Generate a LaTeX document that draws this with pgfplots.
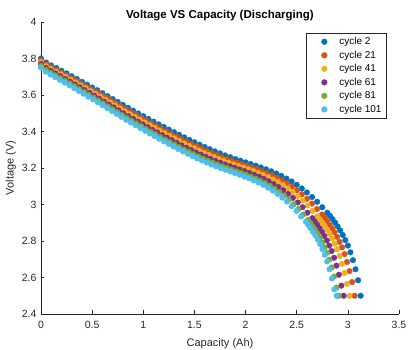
\documentclass[border=0pt]{standalone}
\usepackage{fontspec}
\setmainfont{Liberation Sans}
\usepackage{pgfplots}
\usepackage{pgfplotstable}
\pgfplotsset{compat=1.18}
\definecolor{c1}{rgb}{0,0.447,0.741}
\definecolor{c2}{rgb}{0.850,0.325,0.098}
\definecolor{c3}{rgb}{0.929,0.694,0.125}
\definecolor{c4}{rgb}{0.494,0.184,0.556}
\definecolor{c5}{rgb}{0.466,0.674,0.188}
\definecolor{c6}{rgb}{0.301,0.745,0.933}
\definecolor{axc}{rgb}{0.15,0.15,0.15}

\pgfplotstableread{
x V
0.00 3.800
0.05 3.778
0.10 3.762
0.15 3.748
0.20 3.733
0.25 3.718
0.30 3.703
0.35 3.688
0.40 3.672
0.45 3.657
0.50 3.641
0.55 3.626
0.60 3.610
0.65 3.594
0.70 3.578
0.75 3.562
0.80 3.546
0.85 3.530
0.90 3.514
0.95 3.499
1.00 3.484
1.05 3.469
1.10 3.454
1.15 3.439
1.20 3.425
1.25 3.410
1.30 3.396
1.35 3.382
1.40 3.368
1.45 3.354
1.50 3.341
1.55 3.328
1.60 3.315
1.65 3.303
1.70 3.291
1.75 3.280
1.80 3.269
1.85 3.259
1.90 3.249
1.95 3.240
2.00 3.231
2.05 3.222
2.10 3.213
2.15 3.203
2.20 3.193
2.25 3.182
2.30 3.170
2.35 3.157
2.40 3.142
2.45 3.126
2.50 3.108
2.55 3.088
2.60 3.066
2.65 3.041
2.70 3.015
2.75 2.985
2.80 2.955
2.825 2.938
2.85 2.920
2.875 2.900
2.90 2.880
2.925 2.858
2.95 2.833
2.975 2.805
3.00 2.775
3.025 2.738
3.05 2.695
3.075 2.645
3.10 2.585
3.125 2.500
}\cycA

\pgfplotstableread{
x V
0.000 3.790
0.049 3.768
0.098 3.752
0.147 3.738
0.196 3.723
0.245 3.708
0.294 3.693
0.343 3.678
0.392 3.662
0.441 3.647
0.491 3.631
0.540 3.616
0.589 3.600
0.638 3.584
0.687 3.568
0.736 3.552
0.785 3.536
0.834 3.520
0.883 3.504
0.932 3.489
0.981 3.474
1.030 3.459
1.079 3.444
1.128 3.429
1.177 3.415
1.226 3.400
1.275 3.386
1.324 3.372
1.373 3.358
1.422 3.344
1.472 3.331
1.521 3.318
1.570 3.305
1.619 3.293
1.668 3.281
1.717 3.270
1.766 3.259
1.815 3.249
1.864 3.239
1.913 3.230
1.962 3.221
2.011 3.212
2.060 3.203
2.109 3.193
2.158 3.183
2.207 3.172
2.256 3.160
2.305 3.147
2.354 3.132
2.403 3.116
2.453 3.098
2.502 3.078
2.551 3.056
2.600 3.031
2.649 3.005
2.698 2.975
2.747 2.945
2.771 2.928
2.796 2.910
2.820 2.890
2.845 2.870
2.869 2.848
2.894 2.823
2.918 2.795
2.943 2.765
2.968 2.728
2.992 2.685
3.017 2.635
3.041 2.575
3.066 2.500
}\cycB

\pgfplotstableread{
x V
0.000 3.780
0.048 3.758
0.097 3.742
0.145 3.728
0.193 3.713
0.241 3.698
0.290 3.683
0.338 3.668
0.386 3.652
0.434 3.637
0.483 3.621
0.531 3.606
0.579 3.590
0.627 3.574
0.676 3.558
0.724 3.542
0.772 3.526
0.820 3.510
0.869 3.494
0.917 3.479
0.965 3.464
1.013 3.449
1.062 3.434
1.110 3.419
1.158 3.405
1.206 3.390
1.255 3.376
1.303 3.362
1.351 3.348
1.399 3.334
1.448 3.321
1.496 3.308
1.544 3.295
1.592 3.283
1.641 3.271
1.689 3.260
1.737 3.249
1.785 3.239
1.834 3.229
1.882 3.220
1.930 3.211
1.978 3.202
2.027 3.193
2.075 3.183
2.123 3.173
2.171 3.162
2.220 3.150
2.268 3.137
2.316 3.122
2.364 3.106
2.413 3.088
2.461 3.068
2.509 3.046
2.557 3.021
2.606 2.995
2.654 2.965
2.702 2.935
2.726 2.918
2.750 2.900
2.774 2.880
2.799 2.860
2.823 2.838
2.847 2.813
2.871 2.785
2.895 2.755
2.919 2.718
2.943 2.675
2.967 2.625
2.992 2.565
3.016 2.500
}\cycC

\pgfplotstableread{
x V
0.000 3.770
0.047 3.748
0.095 3.732
0.142 3.718
0.189 3.703
0.237 3.688
0.284 3.673
0.331 3.658
0.379 3.642
0.426 3.627
0.474 3.611
0.521 3.596
0.568 3.580
0.616 3.564
0.663 3.548
0.710 3.532
0.758 3.516
0.805 3.500
0.852 3.484
0.900 3.469
0.947 3.454
0.994 3.439
1.042 3.424
1.089 3.409
1.136 3.395
1.184 3.380
1.231 3.366
1.278 3.352
1.326 3.338
1.373 3.324
1.421 3.311
1.468 3.298
1.515 3.285
1.563 3.273
1.610 3.261
1.657 3.250
1.705 3.239
1.752 3.229
1.799 3.219
1.847 3.210
1.894 3.201
1.941 3.192
1.989 3.183
2.036 3.173
2.083 3.163
2.131 3.152
2.178 3.140
2.225 3.127
2.273 3.112
2.320 3.096
2.368 3.078
2.415 3.058
2.462 3.036
2.510 3.011
2.557 2.985
2.604 2.955
2.652 2.925
2.675 2.908
2.699 2.890
2.723 2.870
2.746 2.850
2.770 2.828
2.794 2.803
2.817 2.775
2.841 2.745
2.865 2.708
2.888 2.665
2.912 2.615
2.936 2.555
2.959 2.500
}\cycD

\pgfplotstableread{
x V
0.000 3.760
0.047 3.738
0.093 3.722
0.140 3.708
0.186 3.693
0.233 3.678
0.280 3.663
0.326 3.648
0.373 3.632
0.419 3.617
0.466 3.601
0.513 3.586
0.559 3.570
0.606 3.554
0.652 3.538
0.699 3.522
0.746 3.506
0.792 3.490
0.839 3.474
0.885 3.459
0.932 3.444
0.979 3.429
1.025 3.414
1.072 3.399
1.118 3.385
1.165 3.370
1.212 3.356
1.258 3.342
1.305 3.328
1.351 3.314
1.398 3.301
1.445 3.288
1.491 3.275
1.538 3.263
1.584 3.251
1.631 3.240
1.678 3.229
1.724 3.219
1.771 3.209
1.817 3.200
1.864 3.191
1.911 3.182
1.957 3.173
2.004 3.163
2.050 3.153
2.097 3.142
2.144 3.130
2.190 3.117
2.237 3.102
2.283 3.086
2.330 3.068
2.377 3.048
2.423 3.026
2.470 3.001
2.516 2.975
2.563 2.945
2.610 2.915
2.633 2.898
2.656 2.880
2.680 2.860
2.703 2.840
2.726 2.818
2.749 2.793
2.773 2.765
2.796 2.735
2.819 2.698
2.843 2.655
2.866 2.605
2.889 2.545
2.913 2.500
}\cycE

\pgfplotstableread{
x V
0.000 3.750
0.046 3.728
0.093 3.712
0.139 3.698
0.185 3.683
0.231 3.668
0.278 3.653
0.324 3.638
0.370 3.622
0.416 3.607
0.463 3.591
0.509 3.576
0.555 3.560
0.601 3.544
0.648 3.528
0.694 3.512
0.740 3.496
0.786 3.480
0.833 3.464
0.879 3.449
0.925 3.434
0.971 3.419
1.018 3.404
1.064 3.389
1.110 3.375
1.156 3.360
1.203 3.346
1.249 3.332
1.295 3.318
1.341 3.304
1.388 3.291
1.434 3.278
1.480 3.265
1.526 3.253
1.573 3.241
1.619 3.230
1.665 3.219
1.711 3.209
1.758 3.199
1.804 3.190
1.850 3.181
1.896 3.172
1.943 3.163
1.989 3.153
2.035 3.143
2.081 3.132
2.128 3.120
2.174 3.107
2.220 3.092
2.266 3.076
2.313 3.058
2.359 3.038
2.405 3.016
2.451 2.991
2.498 2.965
2.544 2.935
2.590 2.905
2.613 2.888
2.636 2.870
2.659 2.850
2.683 2.830
2.706 2.808
2.729 2.783
2.752 2.755
2.775 2.725
2.798 2.688
2.821 2.645
2.844 2.595
2.868 2.535
2.891 2.500
}\cycF

\begin{document}
\begin{tikzpicture}
\useasboundingbox (-41pt,-36pt) rectangle (367pt,314pt);
\begin{axis}[
  scale only axis,
  width=358pt, height=292pt,
  xmin=0, xmax=3.5, ymin=2.4, ymax=4,
  xtick={0,0.5,...,3.5},
  ytick={2.4,2.6,...,4.01},
  xticklabels={0,0.5,1,1.5,2,2.5,3,3.5},
  yticklabels={2.4,2.6,2.8,3,3.2,3.4,3.6,3.8,4},
  axis lines*=left,
  axis line style={axc, line width=0.5pt},
  tick align=inside,
  major tick length=3.5pt,
  tick style={axc, line width=0.5pt},
  ticklabel style={font=\fontsize{10.5}{12}\selectfont, text=axc},
  xticklabel style={yshift=-4pt},
  yticklabel style={xshift=-1pt},
  /pgf/number format/assume math mode=true,
  xlabel={Capacity (Ah)},
  ylabel={Voltage (V)},
  label style={font=\fontsize{11}{13}\selectfont, text=axc},
  xlabel style={yshift=-3pt},
  ylabel style={yshift=-1pt},
  title={Voltage VS Capacity (Discharging)},
  title style={font=\fontsize{11.5}{13}\selectfont\bfseries, yshift=-8pt},
  legend style={at={(0.966,0.962)}, anchor=north east, draw=axc, line width=0.5pt,
    font=\fontsize{10}{12}\selectfont, row sep=0.8pt, inner xsep=3pt, inner ysep=2pt},
  legend cell align=left,
  legend image code/.code={\draw[draw=none, fill=none] (0pt,0pt) -- (28pt,0pt); \draw plot coordinates {(15pt,0pt)};},
  every axis plot/.append style={only marks, mark=*, mark size=2.8pt},
]
\addplot[c1, mark options={draw=c1, fill=c1}] table[x=x,y=V] {\cycA};
\addlegendentry{cycle 2}
\addplot[c2, mark options={draw=c2, fill=c2}] table[x=x,y=V] {\cycB};
\addlegendentry{cycle 21}
\addplot[c3, mark options={draw=c3, fill=c3}] table[x=x,y=V] {\cycC};
\addlegendentry{cycle 41}
\addplot[c4, mark options={draw=c4, fill=c4}] table[x=x,y=V] {\cycD};
\addlegendentry{cycle 61}
\addplot[c5, mark options={draw=c5, fill=c5}] table[x=x,y=V] {\cycE};
\addlegendentry{cycle 81}
\addplot[c6, mark options={draw=c6, fill=c6}] table[x=x,y=V] {\cycF};
\addlegendentry{cycle 101}
\end{axis}
\end{tikzpicture}
\end{document}
